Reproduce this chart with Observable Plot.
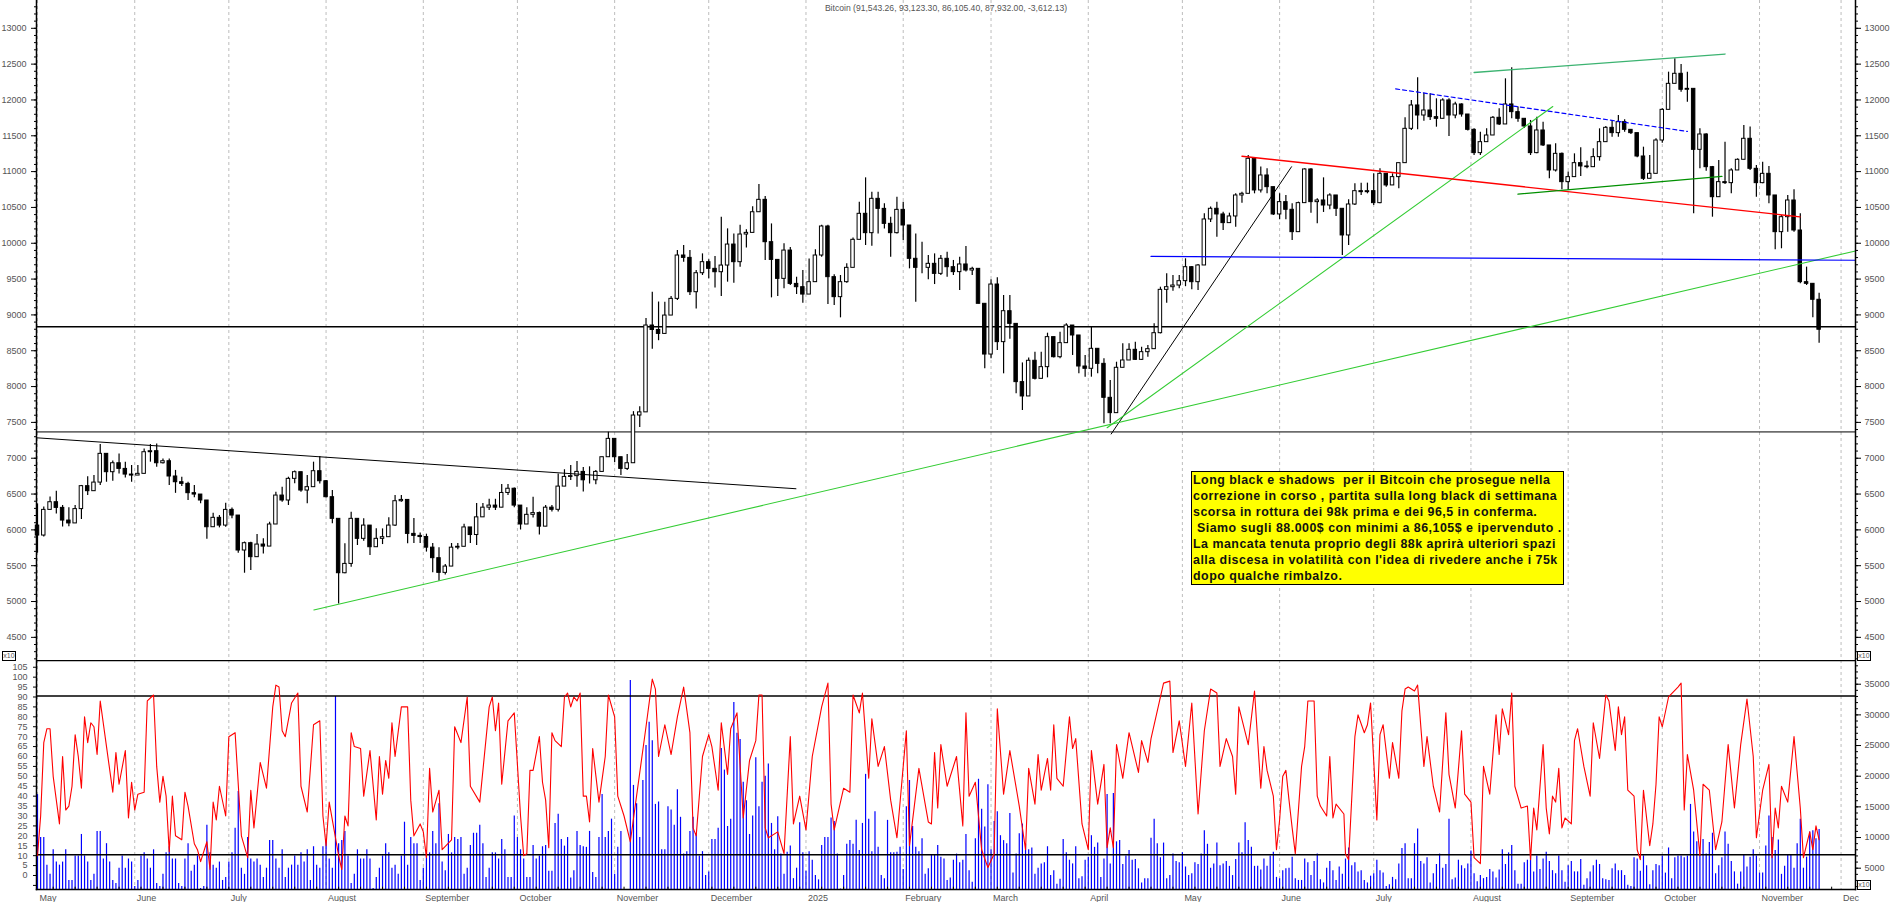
<!DOCTYPE html>
<html><head><meta charset="utf-8">
<script src="https://cdn.jsdelivr.net/npm/d3@7"></script>
<script src="https://cdn.jsdelivr.net/npm/@observablehq/plot@0.6"></script>
<style>
html,body{margin:0;padding:0;background:#fff;overflow:hidden}
#chart{position:relative;width:1890px;height:902px;overflow:hidden;font-family:"Liberation Sans",Arial,sans-serif}
#chart svg{display:block;position:absolute;left:0;background:transparent}
#note{position:absolute;left:1191px;top:471px;width:370px;height:112px;background:#ff0;border:1px solid #000;font:bold 12.4px/16px "Liberation Sans",Arial,sans-serif;letter-spacing:.5px;color:#111;white-space:pre;padding:0 0 0 1px;box-sizing:content-box}
.x10{position:absolute;width:12px;height:8px;border:1px solid #000;font:7px/8px "Liberation Sans",Arial,sans-serif;color:#555;text-align:center;background:#fff}
</style></head><body><div id="chart"></div>
<script>
const titleText = "Bitcoin (91,543.26, 93,123.30, 86,105.40, 87,932.00, -3,612.13)";
const noteLines = [
  "Long black e shadows  per il Bitcoin che prosegue nella",
  "correzione in corso , partita sulla long black di settimana",
  "scorsa in rottura dei 98k prima e dei 96,5 in conferma.",
  " Siamo sugli 88.000$ con minimi a 86,105$ e ipervenduto .",
  "La mancata tenuta proprio degli 88k aprirà ulteriori spazi",
  "alla discesa in volatilità con l'idea di rivedere anche i 75k",
  "dopo qualche rimbalzo."
];
const monthLabels = ["May","June","July","August","September","October","November","December","2025","February","March","April","May","June","July","August","September","October","November","Dec"];
const monthDays = [0,31,61,92,123,153,184,214,245,276,304,335,365,396,426,457,488,518,549,575];

const firstOpen = 6060;
const barStepDays = 2;
const closes = [
5921,6279,6386,6307,6130,6090,6290,6610,6540,6660,
7061,6805,6930,6851,6772,6758,6782,7084,7098,6930,
6958,6745,6665,6642,6512,6493,6410,6037,6168,6060,
6279,6200,5712,5814,5619,5795,5767,6075,6479,6410,
6712,6805,6549,6596,6819,6679,6456,6154,5395,5525,
6154,5875,6060,5758,5875,5898,6060,6400,6418,5944,
5916,5900,5752,5605,5400,5488,5752,5764,6034,5928,
6175,6310,6339,6310,6515,6574,6339,6075,6210,6234,
6045,6310,6280,6604,6739,6750,6809,6692,6692,6809,
7014,7270,7014,6851,6930,7596,7640,8852,8790,8735,
8991,9224,9829,9796,9317,9582,9736,9643,9596,9689,
9982,9736,10122,10145,10433,10606,10015,9768,9503,9898,
9433,9387,9284,9457,9829,10234,9527,9248,9457,9657,
10048,10411,10141,10620,10480,10271,10141,10466,10248,9783,
9657,9657,9713,9573,9783,9666,9597,9704,9620,9643,
9155,8447,9424,8620,9052,8875,8062,7862,8360,8108,
8271,8690,8410,8606,8852,8713,8280,8248,8527,8317,
7843,7629,8262,8364,8513,8373,8480,8522,8745,9350,
9387,9410,9471,9666,9457,9690,10332,10481,10402,10281,
10374,10667,10690,11179,10737,10946,10783,10402,10574,10467,
10155,10560,11030,10574,10597,10527,10667,10481,10109,10541,
10727,10713,10727,10560,10969,10807,10923,11118,11597,11923,
11783,11853,11760,11737,11993,11783,11937,11797,11583,11258,
11411,11504,11751,11658,11937,11830,11737,11630,11258,11574,
11365,11016,11248,10853,10923,11118,11072,11062,11202,11411,
11611,11537,11690,11583,11537,11211,10900,10969,11434,11862,
12225,12365,12142,12155,11304,11518,11062,10643,10853,10839,
11016,11165,11458,11039,10839,10969,10667,10155,10364,10597,
10178,9457,9434,9211,8793];
const highs = [
6363,6320,6460,6540,6340,6310,6340,6620,6740,6760,
7191,7030,6960,7060,6945,6898,6900,7130,7191,7200,
6990,6990,6830,6735,6665,6620,6493,6326,6233,6200,
6372,6307,6200,5830,5828,5935,5875,6107,6526,6596,
6735,6820,6790,6758,6945,7024,6690,6549,6060,5805,
6247,6154,6154,6060,6014,6014,6168,6479,6479,6410,
6160,5958,5940,5810,5752,5517,5810,5810,6080,6034,
6369,6369,6427,6427,6633,6633,6586,6339,6310,6457,
6251,6340,6340,6780,6839,6897,6956,6870,6880,6830,
7014,7363,7270,7014,7052,7650,7720,8950,9317,9180,
9177,9257,9900,9968,9900,9620,9852,9770,9815,10364,
10201,10131,10250,10190,10510,10820,10652,10270,9760,9992,
9940,9526,9619,9782,9908,10250,10250,9560,9550,9713,
10075,10573,10913,10713,10713,10550,10364,10643,10573,10225,
10131,10015,9829,9852,9829,9876,9760,9806,9955,9666,
9620,9145,9490,9517,9271,9271,8640,8330,8400,8480,
8480,8745,8690,8759,8875,8829,8713,8434,8829,8410,
8388,8085,8340,8596,8596,8620,8550,8573,8875,9387,
9573,9550,9550,9783,9676,9704,10411,10505,10574,10434,
10420,10690,10713,11225,11179,11063,11040,10783,10690,10667,
10550,10574,11040,11040,10620,10913,10690,10644,10458,10606,
10830,10839,10839,10969,11040,10969,10969,11118,11751,11993,
12309,12095,12086,12016,12016,12016,11969,11946,11797,11597,
11551,11597,11769,11876,12295,12449,11900,11737,11714,11760,
11690,11365,11388,11258,10993,11248,11332,11146,11318,11597,
11630,11714,11783,11723,11574,11537,11341,11225,11458,11876,
12388,12574,12495,12388,12155,11597,11527,11072,11155,11411,
11039,11178,11644,11621,11086,11132,11072,10652,10388,10667,
10746,10411,9667,9434,9304];
const lows = [
5675,5900,6280,6220,6040,6045,6130,6145,6480,6610,
6620,6665,6680,6780,6725,6665,6758,6780,6945,6875,
6920,6620,6510,6605,6410,6447,6363,5870,6037,6028,
6037,6154,5675,5395,5433,5735,5665,5767,6075,6386,
6340,6642,6526,6363,6690,6640,6445,6084,4967,5386,
5480,5782,5842,5642,5782,5795,5898,6047,6386,5805,
5810,5810,5690,5400,5282,5370,5488,5722,5764,5810,
5781,6192,6270,6270,6310,6480,6310,5998,6075,6165,
5928,6045,6250,6250,6604,6690,6595,6527,6640,6630,
6830,7014,6940,6758,6830,6930,7430,7640,8520,8640,
8875,8991,9200,9735,9270,9084,9550,9503,9377,9256,
9457,9443,9666,9935,10145,10457,9759,9238,9257,9364,
9409,9285,9163,9410,9805,9805,9145,9131,8959,9443,
9657,10048,9969,9960,10131,10200,9806,10131,10039,9643,
9178,9573,9490,9424,9550,9527,9550,9341,9600,9550,
9155,8248,8387,8503,8178,8660,7900,7666,7860,8090,
8248,8122,8400,8387,8620,8434,8178,8131,8131,8178,
7480,7480,7630,8308,8364,8364,8364,8410,8522,8735,
9164,9330,9364,9394,9350,9340,9716,10290,10085,10179,
10351,10225,10560,10970,10690,10700,10690,10388,10327,10327,
10039,10155,10560,10420,10272,10430,10467,10374,9830,9969,
10527,10667,10690,10527,10551,10783,10820,10760,11118,11574,
11583,11704,11713,11620,11737,11490,11737,11760,11565,11225,
11225,11435,11504,11644,11658,11737,11690,11600,11225,11248,
11351,10900,10993,10746,10737,10923,10932,11039,11132,11146,
11527,11481,11481,11551,11518,11193,10876,10923,10969,11397,
11923,12225,12109,11969,10411,11039,11006,10364,10643,10820,
10690,11016,11165,11016,10643,10830,10550,9909,9923,10155,
10155,9434,9411,8960,8606];

// horizontal price levels and drawn trendlines: [[day,value],[day,value]]
const priceLevelHeavy = 8835, priceLevelLight = 7367;
const trendBlackLong = [[-0.3,7285],[241.8,6574]];
const trendBlackSteep = [[342.3,7338],[399.8,11068]];
const trendGreenLong = [[88.1,4883],[579.6,9893]];
const trendGreenMid = [[341,7425],[483.1,11909]];
const trendRed = [[384,11215],[561.9,10369]];
const trendBlue = [[355,9817],[579.6,9763]];
const trendBlueDash = [[433,12154],[526,11561]];
const trendSea = [[458,12383],[538,12641]];
const trendDarkGreen = [[472,10686],[537,10933]];

// oscillator: turning points
const oscDays = [0,1,2,3,4,5,7,8,9,10,11,12,13,14,15,16,17,18,19,20,22,24,25,26,28,29,30,31,32,34,35,37,38,39,40,41,42,43,44,46,47,48,50,51,52,54,55,56,57,58,60,61,63,65,67,68,69,71,73,75,76,77,78,79,81,83,84,86,88,90,91,92,93,96,97,98,99,100,101,103,104,106,108,109,110,111,112,113,114,116,118,119,120,122,123,124,125,126,128,129,132,133,135,137,138,141,144,145,146,147,148,150,152,154,155,156,157,158,160,161,162,163,164,165,167,168,169,170,171,172,173,174,175,176,177,179,181,182,184,185,187,189,
194,196,197,198,200,202,204,206,208,209,210,212,214,215,217,218,220,221,223,225,227,229,230,231,232,233,236,238,240,241,243,245,247,250,252,253,254,257,259,260,262,263,265,266,268,270,272,274,277,278,281,284,285,286,287,288,290,293,295,296,297,299,301,303,305,306,308,310,313,315,316,318,319,320,322,323,324,325,327,329,330,331,333,335,336,338,340,341,342,343,344,346,348,351,352,354,355,359,361,362,364,366,368,370,372,374,376,377,379,381,382,383,386,388,
390,391,392,394,395,396,397,398,399,400,401,403,404,405,407,408,409,411,412,413,414,416.5,417,418,420,421,423,424,425,426,427,428,429,431,432,434,435,436,437,439,440,442,443,445,447,449,450,452,454,455,457,458,460,461,463,465,466,467,469,470,471,473,475,476,477,478,480,481,482,483,484,485,486,487,489,490,491,493,495,496,498,500,501,503,504,505,506,507,509,510,511,512,514,515,516,517,518,520,523,524,525,526,528,530,531,533,535,537,539,541,543,545,547,548,550,552,553,554,555,556,558,560,562,563,565,566,567,568];
const oscValues = [10,30,67,74,74,50,26,60,33,35,45,71,60,44,80,67,77,75,61,88,65,42,62,46,63,29,47,33,41,42,88,91,55,37,50,40,12,40,20,18,42,35,16,13,7,17,3,37,28,45,30,70,72,20,9,43,24,57,44,85,96,95,73,70,87,92,45,32,76,78,30,15,37,10,3,30,25,72,65,64,40,63,28,60,41,58,49,77,60,85,85,38,20,26,22,9,54,32,43,13,18,75,67,90,45,37,85,90,73,87,46,78,82,30,10,11,53,53,70,47,38,14,72,68,65,90,92,85,90,88,92,40,40,27,64,37,60,91,80,40,30,17,75,
99,94,60,76,61,80,95,72,24,20,60,71,65,43,77,51,74,82,29,58,68,91,91,24,19,22,11,70,26,40,23,60,85,97,36,23,44,42,91,82,92,49,79,55,65,38,19,73,15,54,27,26,62,34,66,45,60,25,82,40,47,13,4,11,84,41,63,35,13,54,36,61,43,59,43,76,49,45,80,64,69,26,13,63,36,56,14,24,14,66,49,72,52,68,57,69,97,98,62,78,55,87,31,73,94,92,55,69,60,41,85,66,93,44,
65,53,40,13,28,50,53,38,24,11,55,65,88,88,40,35,30,60,29,36,31,11,8,70,81,72,76,87,58,28,71,76,49,67,49,83,94,95,93,96,55,70,45,32,82,51,34,73,41,37,9,6,55,41,81,61,84,71,92,45,34,35,8,34,23,66,34,21,40,37,54,24,29,26,68,74,55,40,77,59,91,88,63,85,71,80,43,40,13,8,43,15,26,46,80,75,90,95,97,33,61,43,10,46,43,13,27,66,34,66,89,60,19,43,56,9,34,24,45,37,70,34,9,22,13,25,18,9];
const oscHeavyLevels = [108.4, 90.5, 10.4];

// volume, in thousands, one bar per day, read in three runs from the lower pane
const volStartA = 0;
const volA = [17,10,10,5.5,4,8,6,5.5,6,8,3,3,7,7,10.5,7,6,3,4,11,11,6.5,9,6,3,2.5,5,7,5,6.5,6,2,3,7,7.5,6.5,5,8,2.5,2,4,7.5,8.5,6.5,6.5,2.5,2,6.5,9,4.5,5.5,7,1.7,2,12,7.5,5.5,5,6,3,3.5,6,7.5,11.5,17.5,5,4,10,6.5,6,6.5,5.5,3.5,5,9.5,9.5,6.5,5,8,3.5,5,5.5,7,5.5,7.5,6,8,3,8.5,5.5,5,8.5,9.5,6.5,5,33,9,9.5,11,7,2.5,4,8,6.5,6.5,8,6.5,1.7,3.5,5,7,9,7.5,5,5.5,4,7,12.5,5.5,10,9,9,3,5,7.5,7.5,11,9,15.5,6,4.6,10.5,7.5,10,9.7,10,4,5,8.7,10.7,10.7,12,9,3.5,5,7.5,7.5,6.5,9.7,8,3.5,3.5,13.5,10,8,6.5,3.5,3.5,8.7,6.5,7,8.5,8.7,4.5,4.5,12.3,13.8,9.7,8.6,10,3.4,4.6,11,8.7,8.5,8.4,11,4.3,3.5,10,17,10,11,13,4,8.4,11];
const volStartB = 189;
const volB = [35.6,18.5,15.5,10,19.3,25,28.8,25.8,15.4,15.8,8,8,15,14.5,12,17.8,13.3,7.3,7.7,11,13.3,10.6,7,7.7,3.8,4.4,9.7,9.7,11.5,24.5,21,11.8,13,32,27,26,19,16,10.5,13.5,23,15,19,20,22,12.3,8,13.4,7.3,4,7.6,8.6,3.3,5,12.4,7.5,4.5,7.7,6.3,3.8,3.1,8.7,10,10,13.2,12.6,7.3,1.6,3.8,8.9,9.5,8.9,12.8,7.9,12.3,20.3,13,7.7,14.2,8.4,3.8,3.3,12.8,7.5,7.5,7.6,8.4,4.8,15,19.3,11.8,8.4,7.7,9.8,4,4.9,7.2,7.2,8.7,6.8,6.5,3,3.4,6.3,7.3,5.9,6.3,10.5,4.6,2.7,9.8,19.5,14.6,11.7,18.6,8,12.6,14.2,10.3,9.5,9,13.9,4.2,7.3,10.6,12.2,8.9,8,8.3,4,5,5.7,5.9,8.5,3.8,4.6,2.4,3.2,9.7,7.5,6.3,5.7,8.5,3.3,3.6,6.3,6.8,10.3,8.4,9.1,3.5,6.5,17,5.7,17.2,9.3,9.5,5.6,7,7.9,6.3,6.4,4.9,2.6,3.3,3.3,9.9,13,9,6.7,9.1,3.3,3.8,7.3,6.1,5.9,7.5,5.2,3.8,4.1,5.9,5.6,7.3,11.1,8.9,5,5.7,9.1,5.4,5.7,6.1,5.3,3.8,6.4,9.1,7.5,12.4,9.5,8.4,5.3,5.3];
const volStartC = 390;
const volC = [4.7,6.5,5.3,7,7.6,3.5,3.3,4.6,4.9,5,6.8,3.3,3,3,6.5,5.9,3.8,6.1,7.3,3.1,2.6,5,6.1,4.6,3,5.2,4,6.5,8.3,5.4,5.9,4.4,4.6,3,2.6,3.7,4.1,6.3,4.6,4.2,2,2.3,3.5,3.1,5.7,8.2,9,3.3,3.3,9,11.4,6.1,5.7,6.7,2.6,4.1,5.6,7.3,5,5.6,13,3.1,3.4,6.3,5.4,4.9,5.7,7.8,4.1,2.8,3.8,3.3,3.5,4.8,4.4,3.4,4.7,8,5.6,7.5,8.7,4.6,2.4,2.4,5.9,6.3,7,4.4,7,4.8,6.5,7.6,6.1,4.6,4.1,7,4.6,2.7,5.4,6.1,4.4,4.4,6.4,2.2,3.3,4.4,5.4,6.3,5.6,3.3,3.1,3,4.9,5.7,4.6,4.6,3.8,2.2,2,6.7,6.5,4.5,7,5.4,2.3,4.6,5.6,5.4,7,4.2,8.3,3.3,6.7,7,7,6.7,7,15.4,10.9,9.3,7.3,9.7,7.3,9.2,10.7,4.1,5.4,6.7,10.9,8.9,6.1,4.4,2.4,4.4,7.2,5.2,6.8,8,7,4.2,4.2,8.6,13.5,10,7.9,9.6,4,5.3,7.2,7.2,5,9,13,5,6.8,10.9,11.1,9.8,11.3];

// tables built from the arrays
const candles = closes.map((c,i)=>{
  const open = i ? closes[i-1] : firstOpen;
  const day = i*barStepDays;
  return {day, open, close:c, high:Math.max(highs[i],open,c), low:Math.min(lows[i],open,c)};
});
const osc = oscDays.map((d,i)=>({day:d,value:oscValues[i]}));
const toBars = (arr,start)=>arr.map((v,i)=>({day:start+i,value:v*1000}));
const volume = [...toBars(volA,volStartA),...toBars(volB,volStartB),...toBars(volC,volStartC)];

const W = 1890, AXIS = "#000", LABEL = "#555";
const xScale = {type:"linear",domain:[-0.32,579.6],range:[36,1855],axis:null};
const gridMark = Plot.ruleX(monthDays,{stroke:"#bdbdbd",strokeWidth:1,strokeDasharray:"3,3",style:{shapeRendering:"crispEdges"}});
const base = {width:W,marginLeft:36,marginRight:35,style:{background:"transparent",fontFamily:"Liberation Sans, Arial, sans-serif",fontSize:"9px",overflow:"hidden",shapeRendering:"auto"}};
const trend = (pts,o)=>Plot.line(pts,{x:d=>d[0],y:d=>d[1],...o});
const edge = a=>Plot.frame({anchor:a,stroke:"#000",strokeWidth:1.5});
const priceMajor = d3.range(4500,13001,500), priceMinor = d3.range(4200,13400,100);

const pricePlot = Plot.plot({...base,height:660,marginTop:0,marginBottom:0,
  x:xScale,y:{domain:[4177,13388],axis:null},
  marks:[
    gridMark,
    Plot.ruleY([priceLevelHeavy],{stroke:"#000",strokeWidth:1.5}),
    Plot.ruleY([priceLevelLight],{stroke:"#000",strokeWidth:1}),
    Plot.ruleX(candles,{x:"day",y1:"low",y2:"high",stroke:"#000",strokeWidth:1.2,style:{shapeRendering:"crispEdges"}}),
    Plot.rect(candles,{x1:d=>d.day-0.55,x2:d=>d.day+0.55,y1:d=>Math.min(d.open,d.close),y2:d=>Math.max(d.open,d.close),
      fill:d=>d.close>=d.open?"#fff":"#000",stroke:"#000",strokeWidth:1,style:{shapeRendering:"crispEdges"}}),
    trend(trendBlackLong,{stroke:"#000",strokeWidth:1}),
    trend(trendBlackSteep,{stroke:"#000",strokeWidth:1}),
    trend(trendGreenLong,{stroke:"#33cc33",strokeWidth:1.1}),
    trend(trendGreenMid,{stroke:"#33cc33",strokeWidth:1.1}),
    trend(trendRed,{stroke:"#ff0000",strokeWidth:1.4}),
    trend(trendBlue,{stroke:"#0000ff",strokeWidth:1.2}),
    trend(trendBlueDash,{stroke:"#0000ff",strokeWidth:1.2,strokeDasharray:"4,3"}),
    trend(trendSea,{stroke:"#3cb371",strokeWidth:1.3}),
    trend(trendDarkGreen,{stroke:"#009000",strokeWidth:1.4}),
    Plot.axisY({anchor:"left",ticks:priceMinor,tickSize:2,tickFormat:()=>"",stroke:AXIS,label:null}),
    Plot.axisY({anchor:"right",ticks:priceMinor,tickSize:2,tickFormat:()=>"",stroke:AXIS,label:null}),
    Plot.axisY({anchor:"left",ticks:priceMajor,tickSize:5,tickPadding:5,tickFormat:d=>String(d),stroke:AXIS,fill:LABEL,label:null}),
    Plot.axisY({anchor:"right",ticks:priceMajor,tickSize:5,tickPadding:4,tickFormat:d=>String(d),stroke:AXIS,fill:LABEL,label:null}),
    edge("left"),edge("right"),
    Plot.text([titleText],{text:d=>d,frameAnchor:"top",dy:8,fill:LABEL,fontSize:8.6,lineAnchor:"middle"})
  ]});

const volPlot = Plot.plot({...base,height:242,marginTop:0,marginBottom:13,
  x:xScale,y:{domain:[1527,38866],axis:null},
  marks:[
    gridMark,
    Plot.ruleX(volume,{x:"day",y1:1527,y2:"value",stroke:"#0000ff",strokeWidth:1.2,style:{shapeRendering:"crispEdges"}}),
    Plot.axisY({anchor:"right",ticks:d3.range(2000,38001,1000),tickSize:2,tickFormat:()=>"",stroke:AXIS,label:null}),
    Plot.axisY({anchor:"right",ticks:d3.range(5000,35001,5000),tickSize:5,tickPadding:4,tickFormat:d=>String(d),stroke:AXIS,fill:LABEL,label:null})
  ]});

const oscPlot = Plot.plot({...base,height:242,marginTop:0,marginBottom:13,
  x:xScale,y:{domain:[-7.06,108.4],axis:null},
  marks:[
    Plot.ruleY(oscHeavyLevels,{stroke:"#000",strokeWidth:1.5}),
    Plot.line(osc,{x:"day",y:"value",stroke:"#ff0000",strokeWidth:1.1,curve:"linear"}),
    Plot.axisY({anchor:"left",ticks:d3.range(-5,106,5),tickSize:3,tickPadding:6,tickFormat:d=>d<0?"":String(d),stroke:AXIS,fill:LABEL,label:null}),
    edge("left"),edge("right"),edge("bottom"),
    Plot.ruleX(d3.range(5,575,7),{y1:-7.06,y2:-5.9,stroke:"#000",strokeWidth:1}),
    Plot.text(monthLabels,{x:(d,i)=>monthDays[i],text:d=>d,frameAnchor:"bottom",textAnchor:"start",lineAnchor:"middle",dx:2,dy:9,fill:LABEL,fontSize:9})
  ]});

const root = document.getElementById("chart");
pricePlot.style.top = "0px"; volPlot.style.top = "660px"; oscPlot.style.top = "660px";
root.append(pricePlot,volPlot,oscPlot);

const note = document.createElement("div");
note.id = "note"; note.textContent = noteLines.join("\n");
root.append(note);
for (const [l,t] of [[2,651],[1857,651],[1857,880]]) {
  const b = document.createElement("div");
  b.className = "x10"; b.textContent = "x10";
  b.style.left = l+"px"; b.style.top = t+"px";
  root.append(b);
}
</script></body></html>
